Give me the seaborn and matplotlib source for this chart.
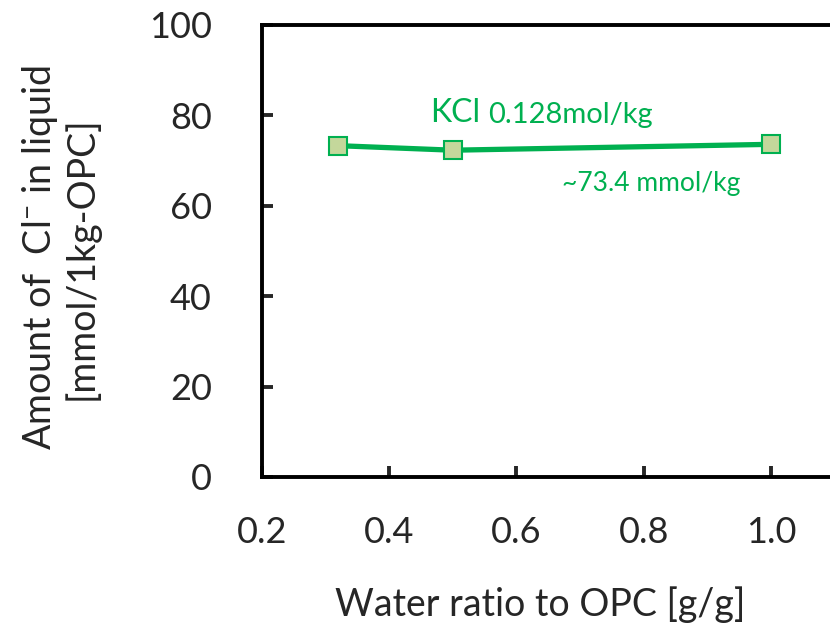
import pandas as pd
import matplotlib.pyplot as plt
import seaborn as sns

# data
water_ratio = [0.32, 0.5, 1.0]
cl_amount = [73.3, 72.3, 73.6]

df = pd.DataFrame({"ratio": water_ratio, "cl": cl_amount})

sns.set_style("ticks")
plt.rcParams["font.family"] = ["Lato", "DejaVu Sans"]
plt.rcParams["mathtext.fontset"] = "custom"
plt.rcParams["mathtext.rm"] = "Lato"
plt.rcParams["mathtext.it"] = "Lato"

green = "#00B050"

fig = plt.figure(figsize=(8.3, 6.33), dpi=100)
ax = fig.add_axes([262 / 830, 156 / 633, 636 / 830, 452 / 633])

sns.lineplot(data=df, x="ratio", y="cl", ax=ax, color=green, linewidth=3.8,
             marker="s", markersize=13, markerfacecolor="#C4D79B",
             markeredgecolor=green, markeredgewidth=1.5)

ax.set_xlim(0.2, 1.2)
ax.set_ylim(0, 100)
ax.set_xticks([0.2, 0.4, 0.6, 0.8, 1.0])
ax.set_xticklabels(["0.2", "0.4", "0.6", "0.8", "1.0"])
ax.set_yticks([0, 20, 40, 60, 80, 100])

for s in ax.spines.values():
    s.set_linewidth(2.8)
    s.set_color("black")
ax.tick_params(direction="in", length=8, width=2.8, labelsize=26)
ax.tick_params(axis="y", pad=36)
ax.tick_params(axis="x", pad=28)

ax.set_xlabel("Water ratio to OPC [g/g]", fontsize=27)
ax.xaxis.label.set_va("center")
ax.xaxis.set_label_coords(0.437, -0.283)

ax.set_ylabel("Amount of  Cl$^{-}$ in liquid\n[mmol/1kg-OPC]", fontsize=27,
              linespacing=1.1)
ax.yaxis.label.set_va("center")
ax.yaxis.set_label_coords(-0.318, 0.485)

kcl = ax.text(0.464, 78.6, "KCl", color=green, fontsize=23)
ax.annotate("0.128mol/kg", xy=(1, 0), xycoords=kcl, xytext=(6, 0),
            textcoords="offset points", color=green, fontsize=21,
            va="bottom")
ax.text(0.672, 63.3, "~73.4 mmol/kg", color=green, fontsize=19)

fig.savefig("out.png", dpi=100)
